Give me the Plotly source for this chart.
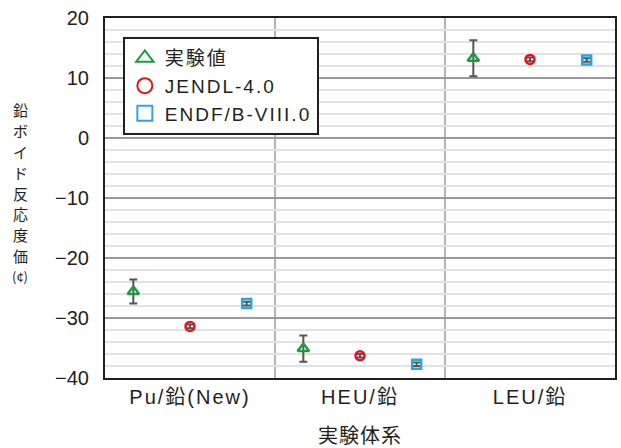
import plotly.graph_objects as go

# Lead void reactivity worth (cents) per experimental system
categories = ["Pu/鉛(New)", "HEU/鉛", "LEU/鉛"]
exp_values = [-25.6, -35.1, 13.3]
exp_errors = [2.0, 2.2, 3.0]
jendl_values = [-31.4, -36.3, 13.1]
jendl_errors = [0.3, 0.3, 0.3]
endf_values = [-27.6, -37.7, 13.0]
endf_errors = [0.3, 0.3, 0.3]
y_ticks = [20, 10, 0, -10, -20, -30, -40]
y_title_chars = ["鉛", "ボ", "イ", "ド", "反", "応", "度", "価", "(¢)"]

FONT = "Liberation Sans, Noto Sans CJK JP"
TXT = "#231f20"
offset = 1 / 3
idx = list(range(len(categories)))


def spaced(text, px):
    return f"<span style='letter-spacing:{px}px'>{text}</span>"


fig = go.Figure()

series = [
    ("実験値", exp_values, exp_errors, -offset, "triangle-up-open", "#1a9b3c", 10),
    ("JENDL-4.0", jendl_values, jendl_errors, 0.0, "circle-open", "#e4141e", 9),
    ("ENDF/B-VIII.0", endf_values, endf_errors, offset, "square-open", "#2ea3dc", 9),
]
for name, vals, errs, dx, sym, col, size in series:
    fig.add_trace(go.Scatter(
        x=[i + dx for i in idx], y=vals, name=name, mode="markers", showlegend=False,
        marker=dict(symbol=sym, color=col, size=size, line=dict(width=2.5, color=col)),
        error_y=dict(type="data", array=errs, visible=True,
                     color="#555555", thickness=2, width=4),
    ))
    # larger symbol for the legend key
    fig.add_trace(go.Scatter(
        x=[None], y=[None], name=spaced(name, 2), mode="markers", showlegend=True,
        marker=dict(symbol=sym, color=col, size=15, line=dict(width=2, color=col)),
    ))

# category separators
for xs in (0.5, 1.5):
    fig.add_shape(type="line", xref="x", yref="paper", x0=xs, x1=xs, y0=0, y1=1,
                  line=dict(color="#b3b3b3", width=2), layer="below")

# vertical y-axis title, one glyph per annotation
step = 21 / 362
y0 = 1 - (110 - 18) / 362
for k, ch in enumerate(y_title_chars):
    fig.add_annotation(text=ch, xref="paper", yref="paper", x=(20 - 105) / 512,
                       y=y0 - k * step, xanchor="center", yanchor="middle",
                       showarrow=False, borderpad=0,
                       font=dict(family="Noto Sans CJK JP",
                                 size=15 if k < 8 else 13, color=TXT))

fig.update_layout(
    width=621, height=448,
    margin=dict(l=105, r=4, t=18, b=68),
    paper_bgcolor="white", plot_bgcolor="white",
    font=dict(family=FONT, color=TXT),
    showlegend=True,
    legend=dict(x=0.035, y=0.947, xanchor="left", yanchor="top",
                bgcolor="white", bordercolor="#231f20", borderwidth=2,
                font=dict(family=FONT, size=19, color=TXT),
                tracegroupgap=0, itemwidth=30),
    xaxis=dict(range=[-0.5, 2.5], tickvals=idx,
               ticktext=[spaced(c, 2) for c in categories],
               showgrid=False, zeroline=False, ticks="",
               showline=True, linecolor="#231f20", linewidth=2, mirror=True,
               tickfont=dict(family=FONT, size=20, color=TXT),
               ticklabelstandoff=0,
               title=dict(text=spaced("実験体系", 1),
                          font=dict(family=FONT, size=20, color=TXT),
                          standoff=22)),
    yaxis=dict(range=[-40, 20], tickvals=y_ticks, showgrid=True,
               gridcolor="#9a9a9a", gridwidth=2, zeroline=False, ticks="",
               showline=True, linecolor="#231f20", linewidth=2, mirror=True,
               tickfont=dict(family=FONT, size=20, color=TXT),
               ticklabelstandoff=10,
               minor=dict(dtick=2, showgrid=True, gridcolor="#e2e2e2", gridwidth=2)),
)

fig.write_html("out.html")
